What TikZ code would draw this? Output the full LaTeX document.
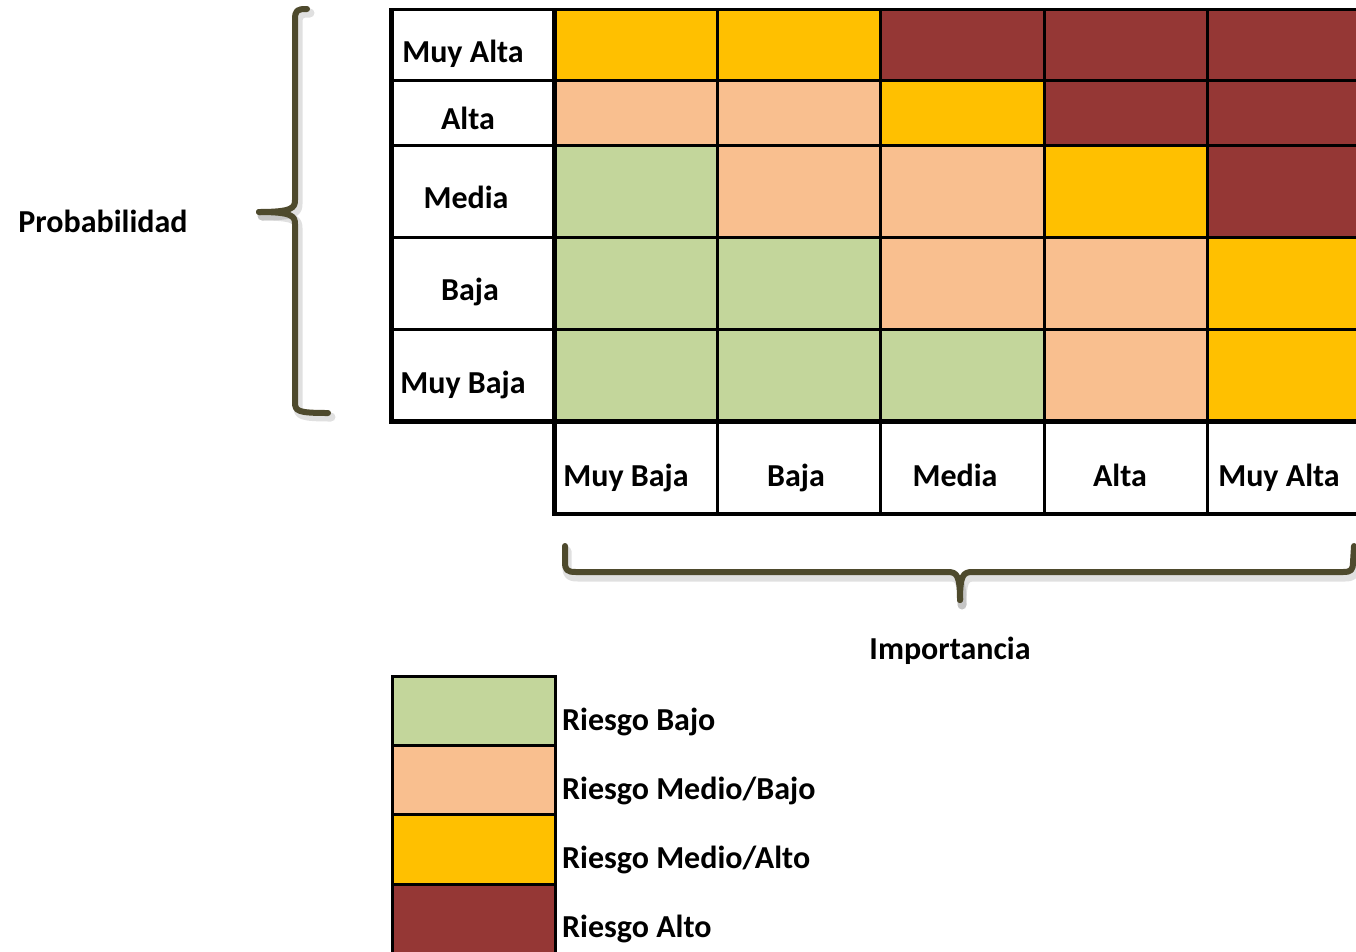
\documentclass[tikz,border=0pt]{standalone}
\usepackage{fontspec}
\setmainfont{Carlito}
\definecolor{rkG}{HTML}{C3D69B}
\definecolor{rkP}{HTML}{F9BF8F}
\definecolor{rkY}{HTML}{FFC000}
\definecolor{rkR}{HTML}{953735}
\definecolor{braceink}{HTML}{4E4A2D}
\begin{document}
\begin{tikzpicture}[x=1pt,y=-1pt,
  thin grid/.style={line width=3pt,black},
  thick grid/.style={line width=5pt,black},
  lbl/.style={font=\fontsize{32}{38}\selectfont\bfseries,anchor=base,inner sep=0pt},
  brace line/.style={line width=6pt,braceink,line cap=round,line join=round},
  brace shadow/.style={line width=9pt,black,opacity=0.12,line cap=round,line join=round},
  legend box/.style={draw=black,line width=3pt}]
\useasboundingbox (0,0) rectangle (1356,951);
\clip (0,0) rectangle (1356,951);

% coloured cells of the matrix
\def\xs{{554,717,880,1044,1207,1370}}
\def\ys{{9,80,145,237,329,421}}
\foreach \cl [count=\k from 0] in {Y,Y,R,R,R, P,P,Y,R,R, G,P,P,Y,R, G,G,P,P,Y, G,G,G,P,Y} {
  \pgfmathtruncatemacro\cc{mod(\k,5)}
  \pgfmathtruncatemacro\rr{div(\k,5)}
  \pgfmathsetmacro\xa{\xs[\cc]}
  \pgfmathsetmacro\xb{\xs[\cc+1]}
  \pgfmathsetmacro\ya{\ys[\rr]}
  \pgfmathsetmacro\yb{\ys[\rr+1]}
  \fill[fill=rk\cl] (\xa,\ya) rectangle (\xb,\yb);
}

% grid lines
\foreach \y in {80,145,237,329} \draw[thin grid] (391,\y) -- (1370,\y);
\draw[thin grid] (389,9) -- (1370,9);
\draw[thick grid] (389,421) -- (1370,421);
\draw[thick grid] (391,9) -- (391,423);
\draw[thick grid] (554,9) -- (554,516);
\foreach \x in {717,880,1044,1207} \draw[thin grid] (\x,9) -- (\x,514);
\draw[line width=4.5pt] (552,514) -- (1370,514);

% row labels (probability)
\node[lbl] (pMA) at (463,62) {Muy Alta};
\node[lbl] (pA)  at (468,129) {Alta};
\node[lbl] (pM)  at (466,208) {Media};
\node[lbl] (pB)  at (470,300) {Baja};
\node[lbl] (pMB) at (463,393) {Muy Baja};

% column labels (importance)
\node[lbl] (iMB) at (626,486) {Muy Baja};
\node[lbl] (iB)  at (796,486) {Baja};
\node[lbl] (iM)  at (955,486) {Media};
\node[lbl] (iA)  at (1120,486) {Alta};
\node[lbl] (iMA) at (1279,486) {Muy Alta};

% axis captions
\node[lbl] (prob) at (103,232) {Probabilidad};
\node[lbl] (imp) at (950,659) {Importancia};

% left brace
\begin{scope}[shift={(3,4)}]
\draw[brace shadow] (307,9) .. controls (297,9) and (295,10) .. (295,20) -- (295,200) .. controls (295,208) and (292,212) .. (259,212);
\draw[brace shadow] (259,212) .. controls (292,212) and (295,216) .. (295,224) -- (295,402) .. controls (295,411) and (297,413) .. (328,413);
\end{scope}
\draw[brace line] (307,9) .. controls (297,9) and (295,10) .. (295,20) -- (295,200) .. controls (295,208) and (292,212) .. (259,212);
\draw[brace line] (259,212) .. controls (292,212) and (295,216) .. (295,224) -- (295,402) .. controls (295,411) and (297,413) .. (328,413);

% bottom brace
\begin{scope}[shift={(2,5)}]
\draw[brace shadow] (565,546) -- (565,562) .. controls (565,570) and (567,572) .. (576,572) -- (948,572) .. controls (957,572) and (960,576) .. (960,600);
\draw[brace shadow] (960,600) .. controls (960,576) and (963,572) .. (972,572) -- (1343,572) .. controls (1351,572) and (1353,570) .. (1353,562) -- (1354,546);
\end{scope}
\draw[brace line] (565,546) -- (565,562) .. controls (565,570) and (567,572) .. (576,572) -- (948,572) .. controls (957,572) and (960,576) .. (960,600);
\draw[brace line] (960,600) .. controls (960,576) and (963,572) .. (972,572) -- (1343,572) .. controls (1351,572) and (1353,570) .. (1353,562) -- (1354,546);

% legend
\draw[legend box,fill=rkG] (392,676) rectangle (555,745);
\draw[legend box,fill=rkP] (392,745) rectangle (555,814);
\draw[legend box,fill=rkY] (392,814) rectangle (555,884);
\draw[legend box,fill=rkR] (392,884) rectangle (555,960);
\node[lbl,anchor=base west] (lg1) at (562,730) {Riesgo Bajo};
\node[lbl,anchor=base west] (lg2) at (562,799) {Riesgo Medio/Bajo};
\node[lbl,anchor=base west] (lg3) at (562,868) {Riesgo Medio/Alto};
\node[lbl,anchor=base west] (lg4) at (562,937) {Riesgo Alto};
\end{tikzpicture}
\end{document}
